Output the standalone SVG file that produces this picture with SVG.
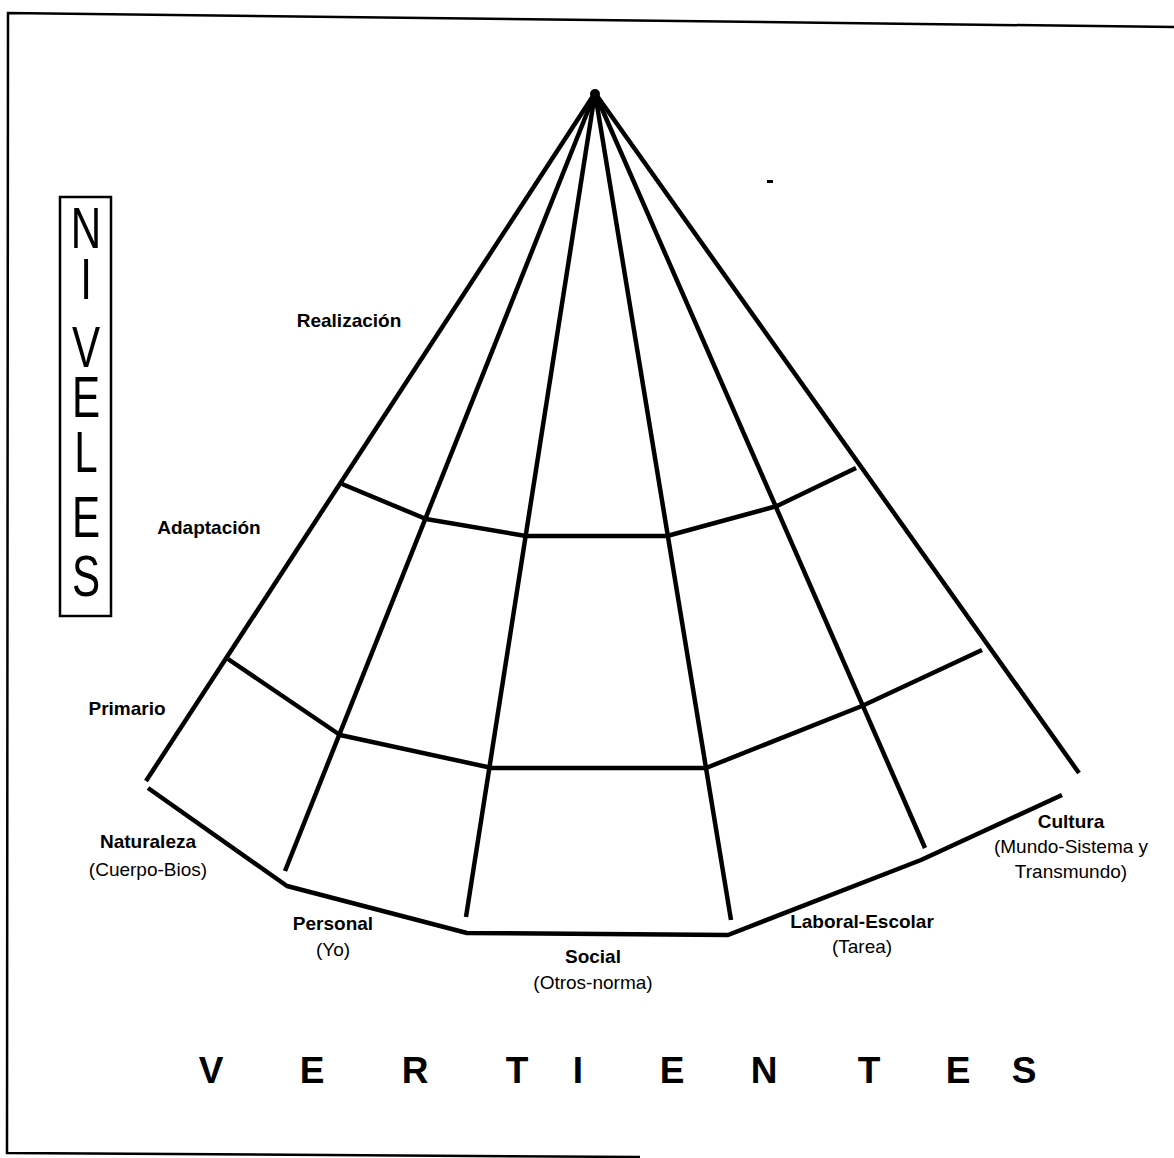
<svg xmlns="http://www.w3.org/2000/svg" width="1174" height="1158" viewBox="0 0 1174 1158">
<style>
.ln{fill:none;stroke:#000;stroke-width:4.5;stroke-linecap:butt;stroke-linejoin:round}
.fr{fill:none;stroke:#000;stroke-width:2.5}
.b{font-family:"Liberation Sans",Arial,sans-serif;font-weight:bold;font-size:19px;text-anchor:middle;fill:#000}
.r{font-family:"Liberation Sans",Arial,sans-serif;font-size:19px;text-anchor:middle;fill:#000}
.big{font-family:"Liberation Sans",Arial,sans-serif;font-weight:bold;font-size:37px;text-anchor:middle;fill:#000}
.niv{font-family:"Liberation Sans",Arial,sans-serif;font-size:54px;text-anchor:middle;fill:#000}
</style>
<rect width="1174" height="1158" fill="#fff"/>
<g id="frame">
<polyline class="fr" points="1174,27 8,13 7,1153 640,1157"/>
</g>
<g id="connectors">
<line class="ln" x1="595" y1="93" x2="146" y2="781"/>
<line class="ln" x1="595" y1="93" x2="285" y2="871"/>
<line class="ln" x1="595" y1="93" x2="466" y2="917"/>
<line class="ln" x1="595" y1="93" x2="731" y2="920"/>
<line class="ln" x1="595" y1="93" x2="925" y2="848"/>
<line class="ln" x1="595" y1="93" x2="1079" y2="773"/>
<polyline class="ln" points="342,484 426,519 526,536 667,536 777,506 856,468"/>
<polyline class="ln" points="228,659 340,735 492,768 706,768 862,706 982,650"/>
<polyline class="ln" points="148,788 287,886 467,933 728,935 921,860 1062,795"/>
<circle cx="595" cy="94" r="5" fill="#000"/>
</g>
<rect x="767" y="180" width="6" height="3" fill="#000"/>
<g id="niveles">
<rect class="fr" x="60" y="197" width="51" height="419" stroke-width="3"/>
<text class="niv" transform="translate(86,0) scale(0.78,1.05)"><tspan x="0" y="236.2">N</tspan><tspan x="0" y="284.8">I</tspan><tspan x="0" y="349.5">V</tspan><tspan x="0" y="397.1">E</tspan><tspan x="0" y="449.5">L</tspan><tspan x="0" y="511.4">E</tspan><tspan x="0" y="567.6">S</tspan></text>
</g>
<g id="level-realizacion"><text class="b" x="349" y="327">Realización</text></g>
<g id="level-adaptacion"><text class="b" x="209" y="534">Adaptación</text></g>
<g id="level-primario"><text class="b" x="127" y="715">Primario</text></g>
<g id="v-naturaleza"><text class="b" x="148" y="848">Naturaleza</text><text class="r" x="148" y="876">(Cuerpo-Bios)</text></g>
<g id="v-personal"><text class="b" x="333" y="930">Personal</text><text class="r" x="333" y="956">(Yo)</text></g>
<g id="v-social"><text class="b" x="593" y="963">Social</text><text class="r" x="593" y="989">(Otros-norma)</text></g>
<g id="v-laboral"><text class="b" x="862" y="928">Laboral-Escolar</text><text class="r" x="862" y="953">(Tarea)</text></g>
<g id="v-cultura"><text class="b" x="1071" y="828">Cultura</text><text class="r" x="1071" y="853">(Mundo-Sistema y</text><text class="r" x="1071" y="878">Transmundo)</text></g>
<g id="vertientes">
<text class="big" x="211" y="1083">V</text>
<text class="big" x="312" y="1083">E</text>
<text class="big" x="415" y="1083">R</text>
<text class="big" x="517" y="1083">T</text>
<text class="big" x="578" y="1083">I</text>
<text class="big" x="672" y="1083">E</text>
<text class="big" x="764" y="1083">N</text>
<text class="big" x="869" y="1083">T</text>
<text class="big" x="958" y="1083">E</text>
<text class="big" x="1024" y="1083">S</text>
</g>
</svg>
